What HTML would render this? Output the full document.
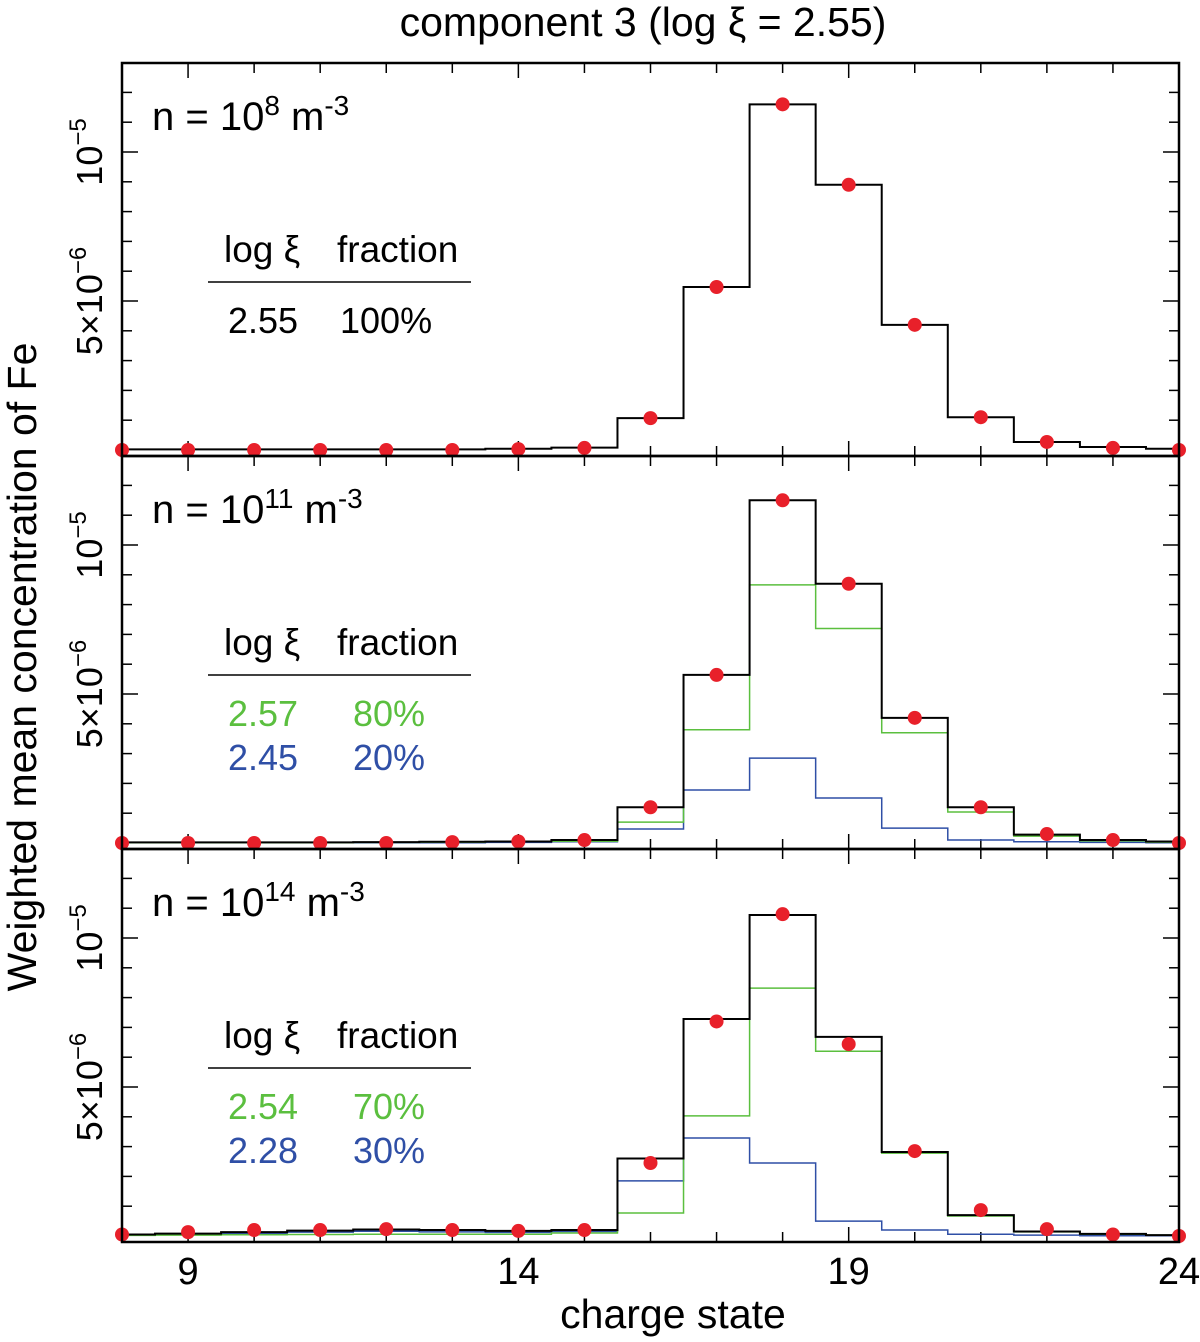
<!DOCTYPE html>
<html><head><meta charset="utf-8"><style>
html,body{margin:0;padding:0;background:#fff;}
svg{display:block;font-family:"Liberation Sans",sans-serif;}
</style></head><body>
<svg id="chart" width="1200" height="1342" viewBox="0 0 1200 1342">
<text x="643" y="36" font-size="41" text-anchor="middle">component 3 (log ξ = 2.55)</text>
<text transform="translate(36,667) rotate(-90)" font-size="41" text-anchor="middle">Weighted mean concentration of Fe</text>
<text x="673" y="1328" font-size="41" text-anchor="middle">charge state</text>
<g id="plots"></g>
</svg>
<script>
const charges = [8,9,10,11,12,13,14,15,16,17,18,19,20,21,22,23,24];
const xTickLabels = ["9","14","19","24"];
const xTickValues = [9,14,19,24];
// values in units of 1e-6
const p1Points = [0,0,0,0,0,0,0.03,0.07,1.07,5.47,11.6,8.9,4.2,1.1,0.27,0.07,0];
const p1Black  = [0.02,0.02,0.02,0.02,0.02,0.02,0.04,0.08,1.07,5.47,11.6,8.9,4.2,1.1,0.27,0.1,0.04];
const p2Points = [0,0,0,0,0,0.03,0.05,0.1,1.2,5.64,11.5,8.7,4.2,1.2,0.3,0.1,0];
const p2Black  = [0.02,0.02,0.02,0.02,0.03,0.04,0.05,0.1,1.2,5.64,11.5,8.7,4.2,1.2,0.28,0.1,0.05];
const p2Green  = [0.01,0.01,0.01,0.01,0.02,0.03,0.04,0.06,0.7,3.8,8.66,7.2,3.7,1.04,0.23,0.07,0.03];
const p2Blue   = [0.01,0.01,0.01,0.01,0.01,0.01,0.02,0.04,0.47,1.78,2.85,1.51,0.5,0.1,0.04,0.02,0.01];
const p3Points = [0.05,0.13,0.2,0.2,0.23,0.2,0.17,0.2,2.45,7.2,10.8,6.44,2.85,0.87,0.23,0.05,0];
const p3Black  = [0.05,0.08,0.13,0.18,0.22,0.2,0.17,0.2,2.6,7.28,10.77,6.68,2.82,0.7,0.15,0.07,0.03];
const p3Green  = [0.02,0.03,0.04,0.05,0.06,0.06,0.06,0.1,0.77,4.03,8.32,6.2,2.78,0.67,0.14,0.06,0.03];
const p3Blue   = [0.03,0.05,0.09,0.13,0.16,0.14,0.12,0.15,1.85,3.29,2.45,0.5,0.2,0.06,0.03,0.01,0.01];
const panelLabels = ["8","11","14"];
const legendRows = [
  [["2.55","100%","#000"]],
  [["2.57","80%","#5bbf3f"],["2.45","20%","#2f4fa6"]],
  [["2.54","70%","#5bbf3f"],["2.28","30%","#2f4fa6"]]
];
const yTickValues = [5,10];

const NS="http://www.w3.org/2000/svg";
const L=122,R=1179,H=393,tops=[63,456,849];
const xs=v=>L+(v-8)*(R-L)/16;
const ysF=top=>v=>top+387-v*29.8;
function mk(tag,attrs,parent){const e=document.createElementNS(NS,tag);for(const k in attrs)e.setAttribute(k,attrs[k]);parent.appendChild(e);return e;}
const root=document.getElementById('plots');
const panels=[
 {pts:p1Points,black:p1Black,green:null,blue:null},
 {pts:p2Points,black:p2Black,green:p2Green,blue:p2Blue},
 {pts:p3Points,black:p3Black,green:p3Green,blue:p3Blue}];
function stepPath(vals,ys){
  let d="";
  vals.forEach((v,i)=>{
    const x0=Math.max(L,xs(charges[i]-0.5)),x1=Math.min(R,xs(charges[i]+0.5)),y=ys(v);
    d+=(i===0?"M":"L")+x0+","+y+"L"+x1+","+y;
  });
  return d;
}
panels.forEach((p,pi)=>{
  const top=tops[pi],ys=ysF(top),bot=top+H;
  const g=mk('g',{},root);
  
  
  for(let c=8;c<=24;c++){
    const x=xs(c),len=xTickValues.includes(c)?15:10;
    mk('line',{x1:x,y1:top,x2:x,y2:top+len,stroke:'#000','stroke-width':1.5},g);
    mk('line',{x1:x,y1:bot,x2:x,y2:bot-len,stroke:'#000','stroke-width':1.5},g);
  }
  for(let v=1;v<=12;v++){
    const y=ys(v);if(y<top+2)continue;
    const len=yTickValues.includes(v)?16:10;
    mk('line',{x1:L,y1:y,x2:L+len,y2:y,stroke:'#000','stroke-width':1.5},g);
    mk('line',{x1:R,y1:y,x2:R-len,y2:y,stroke:'#000','stroke-width':1.5},g);
  }
  const t1=mk('text',{transform:`translate(102,${ys(10)}) rotate(-90)`,'font-size':36,'text-anchor':'middle'},g);
  
  
  t1.innerHTML='10<tspan font-size="24" dy="-16">−5</tspan>';
  const t2=mk('text',{transform:`translate(102,${ys(5)}) rotate(-90)`,'font-size':36,'text-anchor':'middle'},g);
  
  
  t2.innerHTML='5×10<tspan font-size="24" dy="-16">−6</tspan>';
  if(p.blue){const s=mk('path',{d:stepPath(p.blue,ys),fill:'none',stroke:'#2f4fa6','stroke-width':1.5},g);
    
    }
  if(p.green){const s=mk('path',{d:stepPath(p.green,ys),fill:'none',stroke:'#5bbf3f','stroke-width':1.5},g);
    
    }
  const sb=mk('path',{d:stepPath(p.black,ys),fill:'none',stroke:'#000','stroke-width':2},g);
  
  
  p.pts.forEach((v,i)=>{
    const c=mk('circle',{cx:xs(charges[i]),cy:ys(v),r:7,fill:'#e8202a'},g);
    
    
  });
  const fr=mk('rect',{x:L,y:top,width:R-L,height:H,fill:'none',stroke:'#000','stroke-width':2.5},g);
  
  
  const nl=mk('text',{x:152,y:top+67,'font-size':40},g);
  
  
  nl.innerHTML=`n = 10<tspan font-size="28" dy="-15">${panelLabels[pi]}</tspan><tspan dy="15"> m</tspan><tspan font-size="28" dy="-15">-3</tspan>`;
  const lg=mk('g',{},g);
  
  
  const hy=top+199;
  const h1=mk('text',{x:224,y:hy,'font-size':37},lg);h1.textContent='log ξ';
  const h2=mk('text',{x:337,y:hy,'font-size':37},lg);h2.textContent='fraction';
  mk('line',{x1:208,y1:top+219,x2:471,y2:top+219,stroke:'#000','stroke-width':1.5},lg);
  legendRows[pi].forEach((r,ri)=>{
    const y=top+270+ri*44;
    const a=mk('text',{x:228,y:y,'font-size':36,fill:r[2]},lg);a.textContent=r[0];
    
    
    const b=mk('text',{x:pi===0?340:353,y:y,'font-size':36,fill:r[2]},lg);b.textContent=r[1];
    
    
  });
});
xTickValues.forEach((v,i)=>{
  const t=mk('text',{x:xs(v),y:1284,'font-size':38,'text-anchor':'middle'},root);
  
  
  t.textContent=xTickLabels[i];
});
</script>
</body></html>
